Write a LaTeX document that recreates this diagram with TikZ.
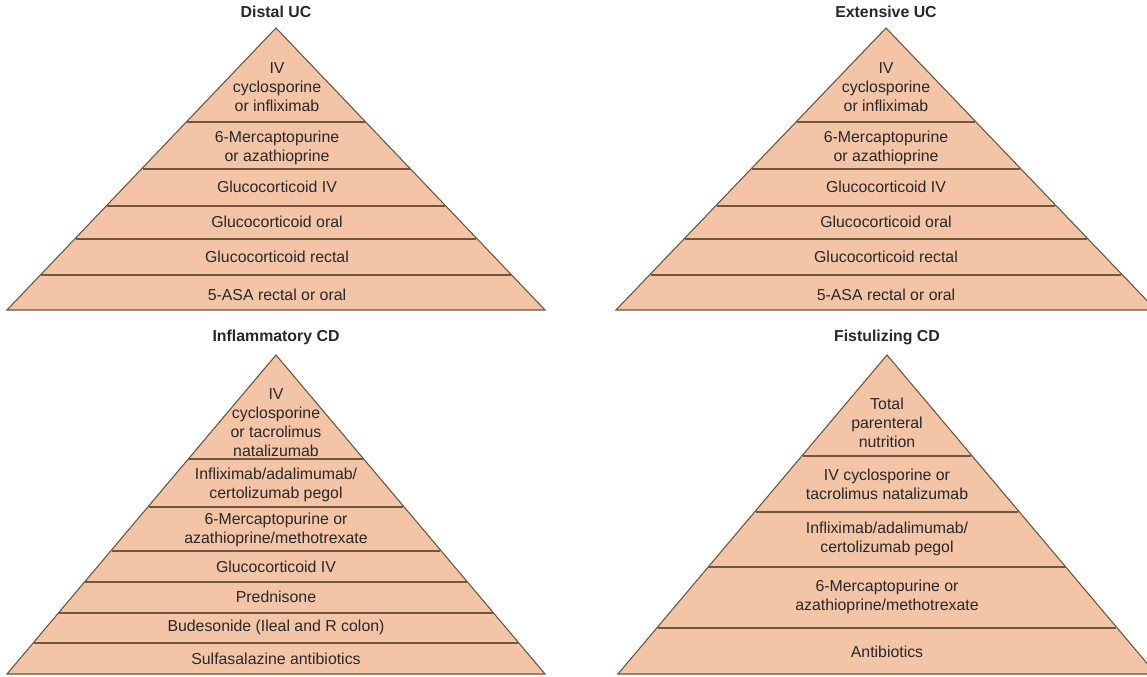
\documentclass[tikz,border=0pt]{standalone}
\usepackage{fontspec}
\setmainfont{Liberation Sans}
\definecolor{pyrfill}{RGB}{243,197,166}
\definecolor{sepcol}{RGB}{112,88,58}
\definecolor{edgecol}{RGB}{105,85,60}
\definecolor{txtcol}{RGB}{40,40,40}
\newcommand\drawpyr[5]{%
  \fill[pyrfill] (#1,#2) -- ({#1+#4},#3) -- ({#1-#4},#3) -- cycle;
  \foreach \s in {#5} {
    \draw[sepline] ({#1-(\s-#2)/(#3-#2)*#4+1},\s) -- ({#1+(\s-#2)/(#3-#2)*#4-1},\s);
  }
  \draw[pyredge] (#1,#2) -- ({#1+#4},#3) -- ({#1-#4},#3) -- cycle;
}
\begin{document}
\begin{tikzpicture}[x=0.75pt,y=-0.75pt,
  sepline/.style={draw=sepcol,line width=1.7pt},
  pyredge/.style={draw=edgecol,line width=0.8pt,line join=miter},
  lbl/.style={text=txtcol,align=center,inner sep=0pt,font=\fontsize{11.9}{14.3}\selectfont},
  ttl/.style={text=txtcol,inner sep=0pt,font=\fontsize{11.9}{14.3}\selectfont\bfseries}]
\clip (0,0) rectangle (1147,677);
\fill[white] (0,0) rectangle (1147,677);

% Distal UC
\drawpyr{276}{28}{310}{269}{122,169,206,239,275}
\node[ttl] (dT) at (276,12) {Distal UC};
\node[lbl] (d1) at (277,87) {IV\\cyclosporine\\or infliximab};
\node[lbl] (d2) at (277,147.5) {6-Mercaptopurine\\or azathioprine};
\node[lbl] (d3) at (277,187) {Glucocorticoid IV};
\node[lbl] (d4) at (277,222) {Glucocorticoid oral};
\node[lbl] (d5) at (277,257) {Glucocorticoid rectal};
\node[lbl] (d6) at (277,295) {5-ASA rectal or oral};

% Extensive UC
\drawpyr{886}{28}{310}{270}{122,169,206,239,275}
\node[ttl] (eT) at (886,12) {Extensive UC};
\node[lbl] (e1) at (886,87) {IV\\cyclosporine\\or infliximab};
\node[lbl] (e2) at (886,147.5) {6-Mercaptopurine\\or azathioprine};
\node[lbl] (e3) at (886,187) {Glucocorticoid IV};
\node[lbl] (e4) at (886,222) {Glucocorticoid oral};
\node[lbl] (e5) at (886,257) {Glucocorticoid rectal};
\node[lbl] (e6) at (886,295) {5-ASA rectal or oral};

% Inflammatory CD
\drawpyr{276}{355}{674}{269}{459.3,507.3,550.7,582.3,613.3,643.3}
\node[ttl] (iT) at (276,337) {Inflammatory CD};
\node[lbl] (i1) at (276,423) {IV\\cyclosporine\\or tacrolimus\\natalizumab};
\node[lbl] (i2) at (276,484.5) {Infliximab/adalimumab/\\certolizumab pegol};
\node[lbl] (i3) at (276,530) {6-Mercaptopurine or\\azathioprine/methotrexate};
\node[lbl] (i4) at (276,567) {Glucocorticoid IV};
\node[lbl] (i5) at (276,597) {Prednisone};
\node[lbl] (i6) at (276,627) {Budesonide (Ileal and R colon)};
\node[lbl] (i7) at (276,659) {Sulfasalazine antibiotics};

% Fistulizing CD
\drawpyr{887}{355}{674}{269}{456,511.7,566.7,628.3}
\node[ttl] (fT) at (887,337) {Fistulizing CD};
\node[lbl] (f1) at (887,422.7) {Total\\parenteral\\nutrition};
\node[lbl] (f2) at (887,484.5) {IV cyclosporine or\\tacrolimus natalizumab};
\node[lbl] (f3) at (887,538.5) {Infliximab/adalimumab/\\certolizumab pegol};
\node[lbl] (f4) at (887,596.5) {6-Mercaptopurine or\\azathioprine/methotrexate};
\node[lbl] (f5) at (887,652) {Antibiotics};
\end{tikzpicture}
\end{document}
